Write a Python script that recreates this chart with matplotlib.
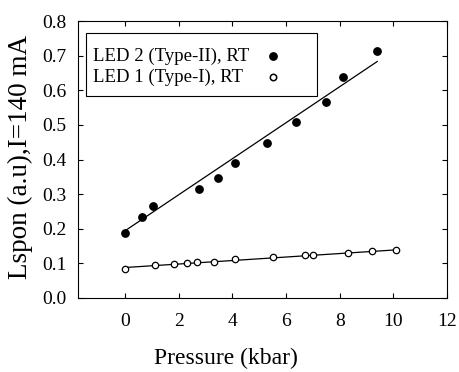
import matplotlib
matplotlib.use("Agg")
import matplotlib.pyplot as plt
from matplotlib.patches import Rectangle
from matplotlib.lines import Line2D

plt.rcParams['font.family'] = ['Liberation Serif', 'DejaVu Serif']

# LED 2 (Type-II) data (filled)
p_led2 = [0.0, 0.65, 1.03, 2.76, 3.48, 4.10, 5.31, 6.36, 7.50, 8.12, 9.39]
l_led2 = [0.187, 0.235, 0.266, 0.314, 0.347, 0.391, 0.447, 0.507, 0.566, 0.637, 0.714]
# LED 1 (Type-I) data (open)
p_led1 = [0.0, 1.11, 1.82, 2.30, 2.70, 3.30, 4.10, 5.51, 6.70, 7.00, 8.30, 9.22, 10.10]
l_led1 = [0.083, 0.094, 0.097, 0.100, 0.103, 0.104, 0.113, 0.119, 0.123, 0.125, 0.131, 0.136, 0.139]

# linear fits (as drawn)
fit2_x = [0.0, 9.4]
fit2_y = [0.194, 0.683]
fit1_x = [0.0, 10.1]
fit1_y = [0.088, 0.139]

labels = ['LED 2 (Type-II), RT', 'LED 1 (Type-I), RT']
xticks = [0, 2, 4, 6, 8, 10, 12]
yticks = [0.0, 0.1, 0.2, 0.3, 0.4, 0.5, 0.6, 0.7, 0.8]

fig = plt.figure(figsize=(4.59, 3.72), dpi=100)
ax = fig.add_axes([78/459, 1 - 298/372, (447-78)/459, (298-21)/372])

ax.plot(fit2_x, fit2_y, color='black', lw=0.9)
ax.plot(fit1_x, fit1_y, color='black', lw=0.9)
ax.plot(p_led2, l_led2, 'o', color='black', ms=5.3, mec='black', zorder=3)
ax.plot(p_led1, l_led1, 'o', mfc='white', mec='black', mew=0.9, ms=4.6, zorder=3)

ax.set_xlim(-1.75, 12)
ax.set_ylim(0, 0.8)
ax.set_xticks(xticks)
ax.set_xticklabels([str(v) for v in xticks])
ax.set_yticks(yticks)
ax.set_yticklabels(['%.1f' % v for v in yticks])
ax.tick_params(direction='in', top=True, right=True, length=3.5, width=0.8, labelsize=14)
ax.tick_params(axis='x', pad=10.5)
ax.tick_params(axis='y', pad=8.5)

for s in ax.spines.values():
    s.set_linewidth(0.8)

ax.set_xlabel('Pressure (kbar)', fontsize=17)
ax.xaxis.set_label_coords(0.40, -0.22)
ax.xaxis.label.set_va('center')
ax.set_ylabel('Lspon (a.u),I=140 mA', fontsize=19.5)
ax.yaxis.set_label_coords(-0.155, 0.51)
ax.yaxis.label.set_va('center')

# legend box (drawn manually, text left-aligned, markers on the right)
ax.add_patch(Rectangle((0.0217, 0.729), 0.627, 0.228, transform=ax.transAxes,
                       facecolor='white', edgecolor='black', lw=0.8, zorder=4))
row_y = [0.874, 0.798]
ax.text(0.041, row_y[0], labels[0], transform=ax.transAxes, fontsize=13.5,
        ha='left', va='center', zorder=5)
ax.text(0.041, row_y[1], labels[1], transform=ax.transAxes, fontsize=13.5,
        ha='left', va='center', zorder=5)
ax.add_line(Line2D([0.528], [row_y[0]], transform=ax.transAxes, marker='o',
                   ms=5.3, color='black', ls='none', zorder=5))
ax.add_line(Line2D([0.528], [row_y[1]], transform=ax.transAxes, marker='o',
                   ms=4.6, mfc='white', mec='black', mew=1.1, ls='none', zorder=5))

fig.savefig('out.png', dpi=100)
